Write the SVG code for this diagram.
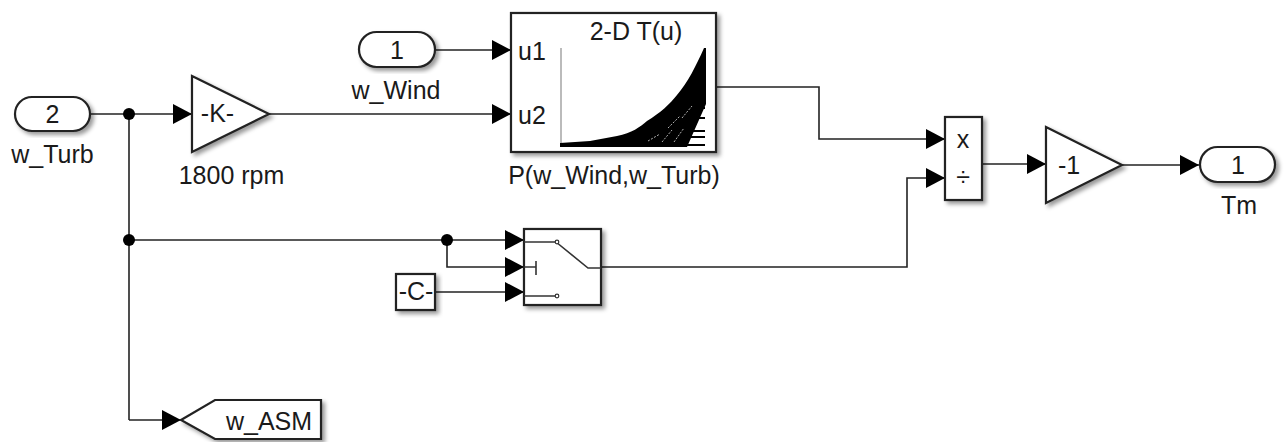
<svg xmlns="http://www.w3.org/2000/svg" width="1287" height="442" viewBox="0 0 1287 442">
<style>
text{font-family:"Liberation Sans",Arial,sans-serif;font-size:25px;fill:#1a1a1a;text-anchor:middle}
.b{fill:#fff;stroke:#222;stroke-width:2.2;filter:url(#sh)}
.c{fill:none;stroke:#222;stroke-width:1.6}
.a{marker-end:url(#ah)}
.i{fill:none;stroke:#333;stroke-width:1.6}
.j{fill:#000}
</style>
<defs>
<filter id="sh" x="-15%" y="-15%" width="135%" height="135%"><feDropShadow dx="3" dy="3" stdDeviation="2.2" flood-color="#000" flood-opacity="0.4"/></filter>
<marker id="ah" markerUnits="userSpaceOnUse" markerWidth="20" markerHeight="20" refX="19" refY="10" orient="auto"><path d="M0,0 L19,10 L0,20 z" fill="#000"/></marker>
</defs>
<rect width="1287" height="442" fill="#fff"/>
<g id="connectors">
<path class="c" d="M90,114 H129"/>
<path class="c a" d="M129,114 H192"/>
<path class="c a" d="M269,114 H511"/>
<path class="c a" d="M435,50 H511"/>
<path class="c" d="M129,114 V420"/>
<path class="c a" d="M129,420 H181"/>
<path class="c a" d="M129,240 H524"/>
<path class="c a" d="M447,240 V267 H524"/>
<path class="c a" d="M435,292 H524"/>
<path class="c a" d="M716,87 H819 V139 H945"/>
<path class="c a" d="M601,267 H907 V178 H945"/>
<path class="c a" d="M982,164 H1046"/>
<path class="c a" d="M1122,165 H1199"/>
<circle class="j" cx="129" cy="114" r="6"/>
<circle class="j" cx="129" cy="240" r="6"/>
<circle class="j" cx="447" cy="240" r="6"/>
</g>
<g id="inport2"><rect class="b" x="15" y="97" width="75" height="34" rx="17"/><text x="52.500" y="123">2</text><text x="52.500" y="163">w_Turb</text></g>
<g id="gain-k"><path class="b" d="M192,76 L269,114 L192,152 z"/><text x="217.500" y="122">-K-</text><text x="231.500" y="184">1800 rpm</text></g>
<g id="inport1"><rect class="b" x="359" y="32" width="76" height="35" rx="17.500"/><text x="397" y="59">1</text><text x="396" y="99">w_Wind</text></g>
<g id="lookup">
<rect class="b" x="511" y="13" width="205" height="139"/>
<text x="532" y="60">u1</text><text x="532" y="124">u2</text>
<text x="636" y="40">2-D T(u)</text>
<text x="614" y="184">P(w_Wind,w_Turb)</text>
<path d="M561,48 V146" stroke="#aaa" stroke-width="1.6" fill="none"/>
<path d="M560,143 L590,141 L617,136 C632,133 640,127 647,121 C660,113 670,104 677,95 C688,82 696,66 704,48 L706,48 L706,104 L687,147 L560,147 z" fill="#000"/>
<path d="M690,108 H705 M688,118 H705 M684,131 H705 M682,137 H705 M680,145 H705" stroke="#000" stroke-width="1.8"/>
<path d="M648,141 L660,134 M662,142 L672,130 M668,128 L680,116 M674,142 L684,128 M682,118 L692,106" stroke="#fff" stroke-width="1" stroke-dasharray="2 1.500" fill="none" opacity=".7"/>
</g>
<g id="const"><rect class="b" x="396" y="274" width="39" height="36"/><text x="416" y="300">-C-</text></g>
<g id="switch">
<rect class="b" x="524" y="229" width="77" height="76"/>
<path class="i" d="M524,242 H556 M556,296 H524 M556,242 L588,268 H601 M536,261 V275 M524,267 H536"/>
<circle cx="557" cy="242" r="1.800" fill="#fff" stroke="#333" stroke-width="1.200"/>
<circle cx="557" cy="296" r="1.800" fill="#fff" stroke="#333" stroke-width="1.200"/>
</g>
<g id="product"><rect class="b" x="945" y="117" width="37" height="83"/><text x="963" y="148">x</text><text x="963" y="186">÷</text></g>
<g id="gain-1"><path class="b" d="M1046,127 L1122,165 L1046,203 z"/><text x="1069" y="174">-1</text></g>
<g id="outport1"><rect class="b" x="1200" y="147" width="75" height="35" rx="17.500"/><text x="1238" y="174">1</text><text x="1239" y="214">Tm</text></g>
<g id="goto"><path class="b" d="M181,420 L215,400 H321 V439 H215 z"/><text x="269" y="430">w_ASM</text></g>
</svg>
